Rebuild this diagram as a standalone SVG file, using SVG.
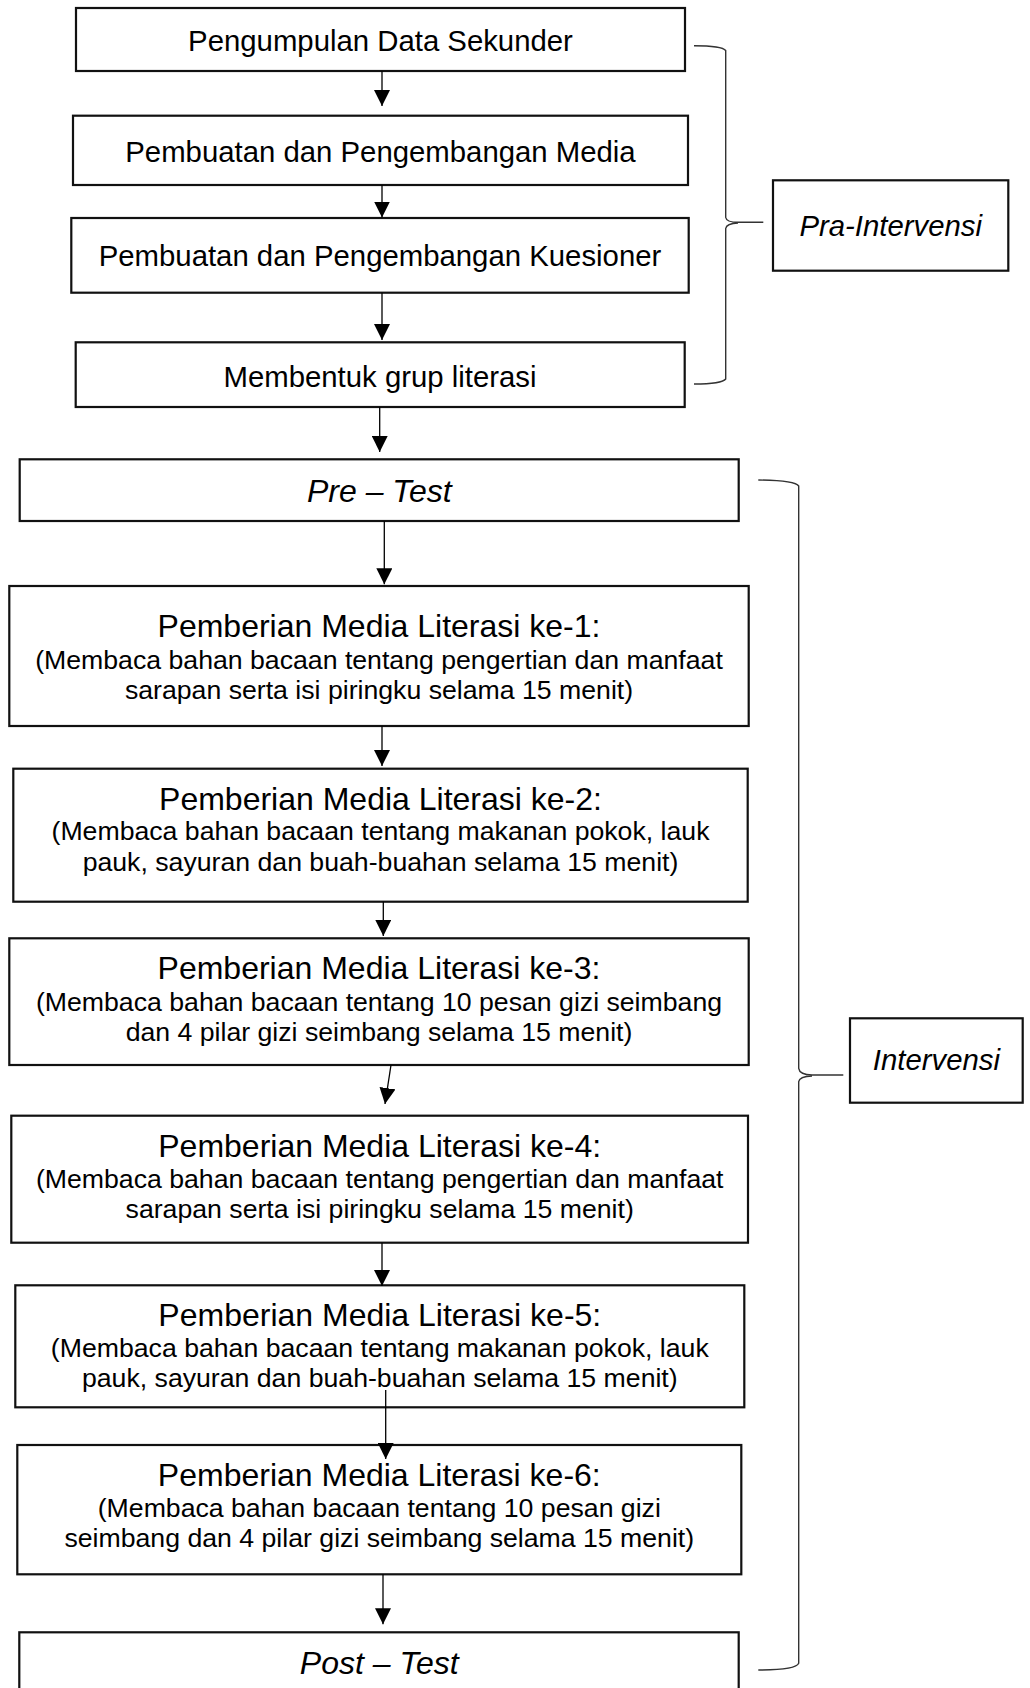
<svg xmlns="http://www.w3.org/2000/svg" width="1030" height="1688" viewBox="0 0 1030 1688">
<style>
  .box { fill: #ffffff; stroke: #111111; stroke-width: 2.2; }
  .t { font-family: "Liberation Sans", Arial, sans-serif; fill: #000000; text-anchor: middle; }
  .s22 { font-size: 29.33px; }
  .s24 { font-size: 32px; }
  .s20 { font-size: 26.67px; }
  .it { font-style: italic; }
  .conn { stroke: #000000; stroke-width: 1.3; fill: none; }
  .brace { stroke: #333333; stroke-width: 1.4; fill: none; }
</style>
<defs>
  <marker id="ah" markerUnits="userSpaceOnUse" markerWidth="16" markerHeight="16" viewBox="0 0 15 15" refX="15" refY="7.5" orient="auto">
    <path d="M0,0 L15,7.5 L0,15 z" fill="#000000"/>
  </marker>
</defs>
<rect x="0" y="0" width="1030" height="1688" fill="#ffffff"/>

<g id="n1">
  <rect class="box" x="76" y="8" width="609" height="63"/>
  <text class="t s22" x="380.5" y="51">Pengumpulan Data Sekunder</text>
</g>
<g id="n2">
  <rect class="box" x="73" y="115.7" width="615" height="69.3"/>
  <text class="t s22" x="380.5" y="161.5">Pembuatan dan Pengembangan Media</text>
</g>
<g id="n3">
  <rect class="box" x="71.3" y="218" width="617.4" height="74.7"/>
  <text class="t s22" x="380" y="266">Pembuatan dan Pengembangan Kuesioner</text>
</g>
<g id="n4">
  <rect class="box" x="75.7" y="342.3" width="609" height="64.7"/>
  <text class="t s22" x="380" y="386.7">Membentuk grup literasi</text>
</g>
<g id="pre">
  <rect class="box" x="19.7" y="459.3" width="719" height="61.7"/>
  <text class="t s24 it" x="379.3" y="501.7">Pre – Test</text>
</g>
<g id="k1">
  <rect class="box" x="9.3" y="586" width="739.4" height="140"/>
  <text class="t s24" x="379" y="636.7">Pemberian Media Literasi ke-1:</text>
  <text class="t s20" x="379" y="669">(Membaca bahan bacaan tentang pengertian dan manfaat</text>
  <text class="t s20" x="379" y="699.3">sarapan serta isi piringku selama 15 menit)</text>
</g>
<g id="k2">
  <rect class="box" x="13.3" y="768.7" width="734.4" height="133"/>
  <text class="t s24" x="380.5" y="810">Pemberian Media Literasi ke-2:</text>
  <text class="t s20" x="380.5" y="840">(Membaca bahan bacaan tentang makanan pokok, lauk</text>
  <text class="t s20" x="380.5" y="870.7">pauk, sayuran dan buah-buahan selama 15 menit)</text>
</g>
<g id="k3">
  <rect class="box" x="9.3" y="938.3" width="739.4" height="126.7"/>
  <text class="t s24" x="379" y="979.3">Pemberian Media Literasi ke-3:</text>
  <text class="t s20" x="379" y="1011">(Membaca bahan bacaan tentang 10 pesan gizi seimbang</text>
  <text class="t s20" x="379" y="1041">dan 4 pilar gizi seimbang selama 15 menit)</text>
</g>
<g id="k4">
  <rect class="box" x="11.3" y="1115.7" width="736.7" height="127"/>
  <text class="t s24" x="379.7" y="1156.7">Pemberian Media Literasi ke-4:</text>
  <text class="t s20" x="379.7" y="1187.7">(Membaca bahan bacaan tentang pengertian dan manfaat</text>
  <text class="t s20" x="379.7" y="1217.7">sarapan serta isi piringku selama 15 menit)</text>
</g>
<g id="k5">
  <rect class="box" x="15.3" y="1285.3" width="729" height="122"/>
  <text class="t s24" x="379.8" y="1326">Pemberian Media Literasi ke-5:</text>
  <text class="t s20" x="379.8" y="1356.7">(Membaca bahan bacaan tentang makanan pokok, lauk</text>
  <text class="t s20" x="379.8" y="1386.7">pauk, sayuran dan buah-buahan selama 15 menit)</text>
</g>
<g id="k6">
  <rect class="box" x="17.3" y="1445" width="724" height="129.3"/>
  <text class="t s24" x="379.3" y="1486">Pemberian Media Literasi ke-6:</text>
  <text class="t s20" x="379.3" y="1517.3">(Membaca bahan bacaan tentang 10 pesan gizi</text>
  <text class="t s20" x="379.3" y="1546.7">seimbang dan 4 pilar gizi seimbang selama 15 menit)</text>
</g>
<g id="post">
  <rect class="box" x="19.3" y="1632.3" width="719.4" height="80"/>
  <text class="t s24 it" x="379.3" y="1674">Post – Test</text>
</g>
<g id="pra">
  <rect class="box" x="773" y="180.3" width="235.3" height="90.4"/>
  <text class="t s22 it" x="890.7" y="236">Pra-Intervensi</text>
</g>
<g id="intervensi">
  <rect class="box" x="850" y="1018.3" width="172.7" height="84.4"/>
  <text class="t s22 it" x="936.4" y="1070">Intervensi</text>
</g>

<g id="connectors">
  <line class="conn" x1="382" y1="71" x2="382" y2="106" marker-end="url(#ah)"/>
  <line class="conn" x1="382" y1="185" x2="382" y2="217.5" marker-end="url(#ah)"/>
  <line class="conn" x1="382" y1="292.7" x2="382" y2="340" marker-end="url(#ah)"/>
  <line class="conn" x1="379.7" y1="407" x2="379.7" y2="452" marker-end="url(#ah)"/>
  <line class="conn" x1="384.3" y1="521" x2="384.3" y2="584.3" marker-end="url(#ah)"/>
  <line class="conn" x1="382" y1="726" x2="382" y2="766" marker-end="url(#ah)"/>
  <line class="conn" x1="383.3" y1="901.7" x2="383.3" y2="936" marker-end="url(#ah)"/>
  <line class="conn" x1="391" y1="1065" x2="385" y2="1104" marker-end="url(#ah)"/>
  <line class="conn" x1="382" y1="1242.7" x2="382" y2="1286" marker-end="url(#ah)"/>
  <line class="conn" x1="385.7" y1="1390" x2="385.7" y2="1459" marker-end="url(#ah)"/>
  <line class="conn" x1="383" y1="1574.3" x2="383" y2="1624.3" marker-end="url(#ah)"/>
  <path class="brace" d="M694 45.7 Q722 45.7 725.7 50.5 L725.7 217.5 Q726.5 222.3 738 222.3 L763.3 222.3 M738 223 Q726.5 223.5 725.7 228.5 L725.7 379 Q722 384 694 384"/>
  <path class="brace" d="M758.3 480 Q795 480.5 798.7 486 L798.7 1068.3 Q799.5 1074.5 812 1075 L843.3 1075 M812 1076 Q799.5 1076.5 798.7 1081.7 L798.7 1663.3 Q796 1670 758.3 1670"/>
</g>
</svg>
